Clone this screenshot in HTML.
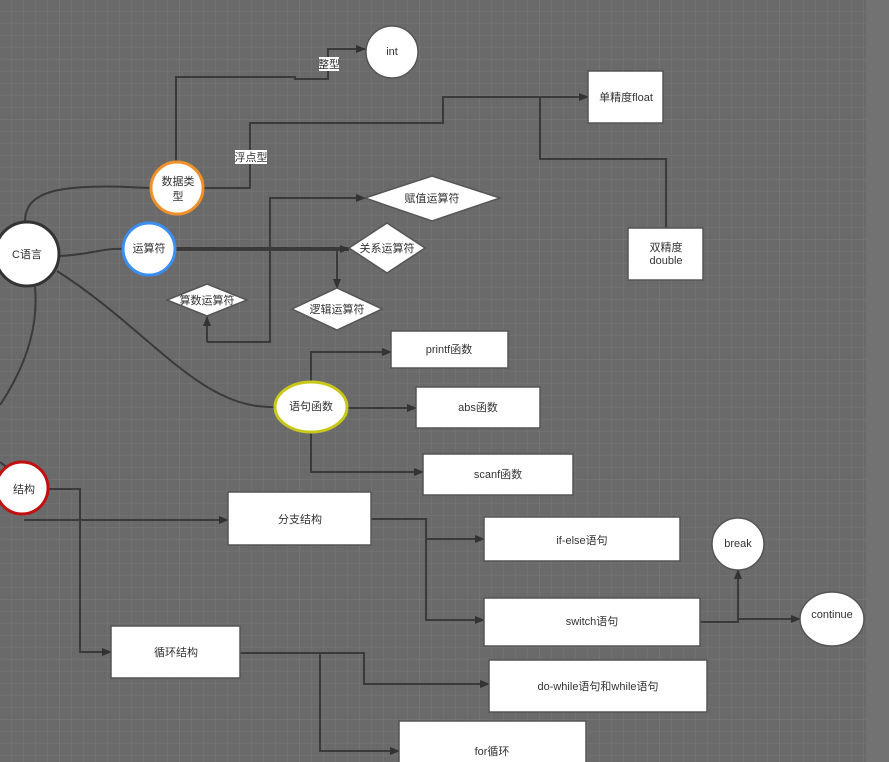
<!DOCTYPE html>
<html><head><meta charset="utf-8"><style>
html,body{margin:0;padding:0;width:889px;height:762px;overflow:hidden;background:#6a6a6a}
svg{display:block}
text{font-family:"Liberation Sans","Noto Sans CJK SC",sans-serif;font-size:11px;fill:#333;text-anchor:middle;dominant-baseline:middle}
</style></head><body>
<svg width="889" height="762" viewBox="0 0 889 762" xmlns="http://www.w3.org/2000/svg">
<defs>
<pattern id="g" width="12" height="12" patternUnits="userSpaceOnUse"><path d="M12 0V12M0 12H12" stroke="#767676" stroke-width="1" fill="none"/></pattern>
<pattern id="G" width="60" height="60" patternUnits="userSpaceOnUse"><path d="M60 0V60M0 60H60" stroke="#7c7c7c" stroke-width="1" fill="none"/></pattern>
<marker id="a" markerWidth="10" markerHeight="8" refX="9" refY="4" orient="auto" markerUnits="userSpaceOnUse"><path d="M0 0L10 4L0 8Z" fill="#333"/></marker>
</defs>
<rect width="889" height="762" fill="#6a6a6a"/>
<rect width="866" height="762" fill="url(#g)"/>
<rect width="866" height="762" fill="url(#G)"/>
<rect x="866" width="23" height="762" fill="#727272"/>
<g stroke="#3a3a3a" stroke-width="2" fill="none">
<path d="M25 222C25 190 60 183 150 188"/>
<path d="M59 256C90 255 100 248 123 249"/>
<path d="M57 271C150 330 200 410 275 407"/>
<path d="M35 287C38 320 30 360 0 405"/>
<path d="M0 462L8 468"/>
<path d="M176 162V77H295V79H328V49H365" marker-end="url(#a)"/>
<path d="M203 188H250V123H443V97H588" marker-end="url(#a)"/>
<path d="M666 228V159H540V97"/>
<path d="M176 249H349" stroke-width="4" marker-end="url(#a)"/>
<path d="M337 249V288" marker-end="url(#a)"/>
<path d="M207 342H270V198H365" marker-end="url(#a)"/>
<path d="M207 342V317" marker-end="url(#a)"/>
<path d="M311 382V352H391" marker-end="url(#a)"/>
<path d="M347 408H416" marker-end="url(#a)"/>
<path d="M311 432V472H423" marker-end="url(#a)"/>
<path d="M48 489H80V652H111" marker-end="url(#a)"/>
<path d="M24 520H228" marker-end="url(#a)"/>
<path d="M371 519H426V539H484" marker-end="url(#a)"/>
<path d="M426 539V620H484" marker-end="url(#a)"/>
<path d="M700 622H738V570" marker-end="url(#a)"/>
<path d="M738 619H800" marker-end="url(#a)"/>
<path d="M240 653H364V684H489" marker-end="url(#a)"/>
<path d="M320 653V751H399" marker-end="url(#a)"/>
</g>
<rect x="319" y="57" width="20" height="14" fill="#fff"/><text x="329" y="65">整型</text>
<rect x="235" y="150" width="32" height="14" fill="#fff"/><text x="251" y="158">浮点型</text>
<g fill="#fff" stroke="#555" stroke-width="1.5">
<circle cx="27" cy="254" r="32" stroke="#333" stroke-width="3"/>
<circle cx="177" cy="188" r="26" stroke="#f0902a" stroke-width="3"/>
<circle cx="149" cy="249" r="26" stroke="#3a8ef0" stroke-width="3"/>
<ellipse cx="311" cy="407" rx="36" ry="25" stroke="#c8c81a" stroke-width="3"/>
<circle cx="22" cy="488" r="26" stroke="#c01010" stroke-width="3"/>
<circle cx="392" cy="52" r="26"/>
<circle cx="738" cy="544" r="26"/>
<ellipse cx="832" cy="619" rx="32" ry="27"/>
<rect x="588" y="71" width="75" height="52"/>
<rect x="628" y="228" width="75" height="52"/>
<rect x="391" y="331" width="117" height="37"/>
<rect x="416" y="387" width="124" height="41"/>
<rect x="423" y="454" width="150" height="41"/>
<rect x="228" y="492" width="143" height="53"/>
<rect x="484" y="517" width="196" height="44"/>
<rect x="484" y="598" width="216" height="48"/>
<rect x="111" y="626" width="129" height="52"/>
<rect x="489" y="660" width="218" height="52"/>
<rect x="399" y="721" width="187" height="45"/>
<path d="M365 198L432 176L500 198L432 221Z"/>
<path d="M349 248L387 223L425 248L387 273Z"/>
<path d="M167 300L207 284L247 300L207 316Z"/>
<path d="M292 309L337 288L382 309L337 330Z"/>
</g>
<text x="27" y="255" font-size="12">C语言</text>
<text x="178" y="182" font-size="12">数据类</text><text x="178" y="197" font-size="12">型</text>
<text x="149" y="249" font-size="12">运算符</text>
<text x="311" y="407">语句函数</text>
<text x="24" y="490">结构</text>
<text x="392" y="52">int</text>
<text x="738" y="544">break</text>
<text x="832" y="615">continue</text>
<text x="626" y="98">单精度float</text>
<text x="666" y="248">双精度</text><text x="666" y="261">double</text>
<text x="449" y="350">printf函数</text>
<text x="478" y="408">abs函数</text>
<text x="498" y="475">scanf函数</text>
<text x="300" y="520">分支结构</text>
<text x="582" y="541">if-else语句</text>
<text x="592" y="622">switch语句</text>
<text x="176" y="653">循环结构</text>
<text x="598" y="687">do-while语句和while语句</text>
<text x="492" y="752">for循环</text>
<text x="432" y="199">赋值运算符</text>
<text x="387" y="249">关系运算符</text>
<text x="207" y="301" font-size="10">算数运算符</text>
<text x="337" y="310">逻辑运算符</text>
</svg>
</body></html>
